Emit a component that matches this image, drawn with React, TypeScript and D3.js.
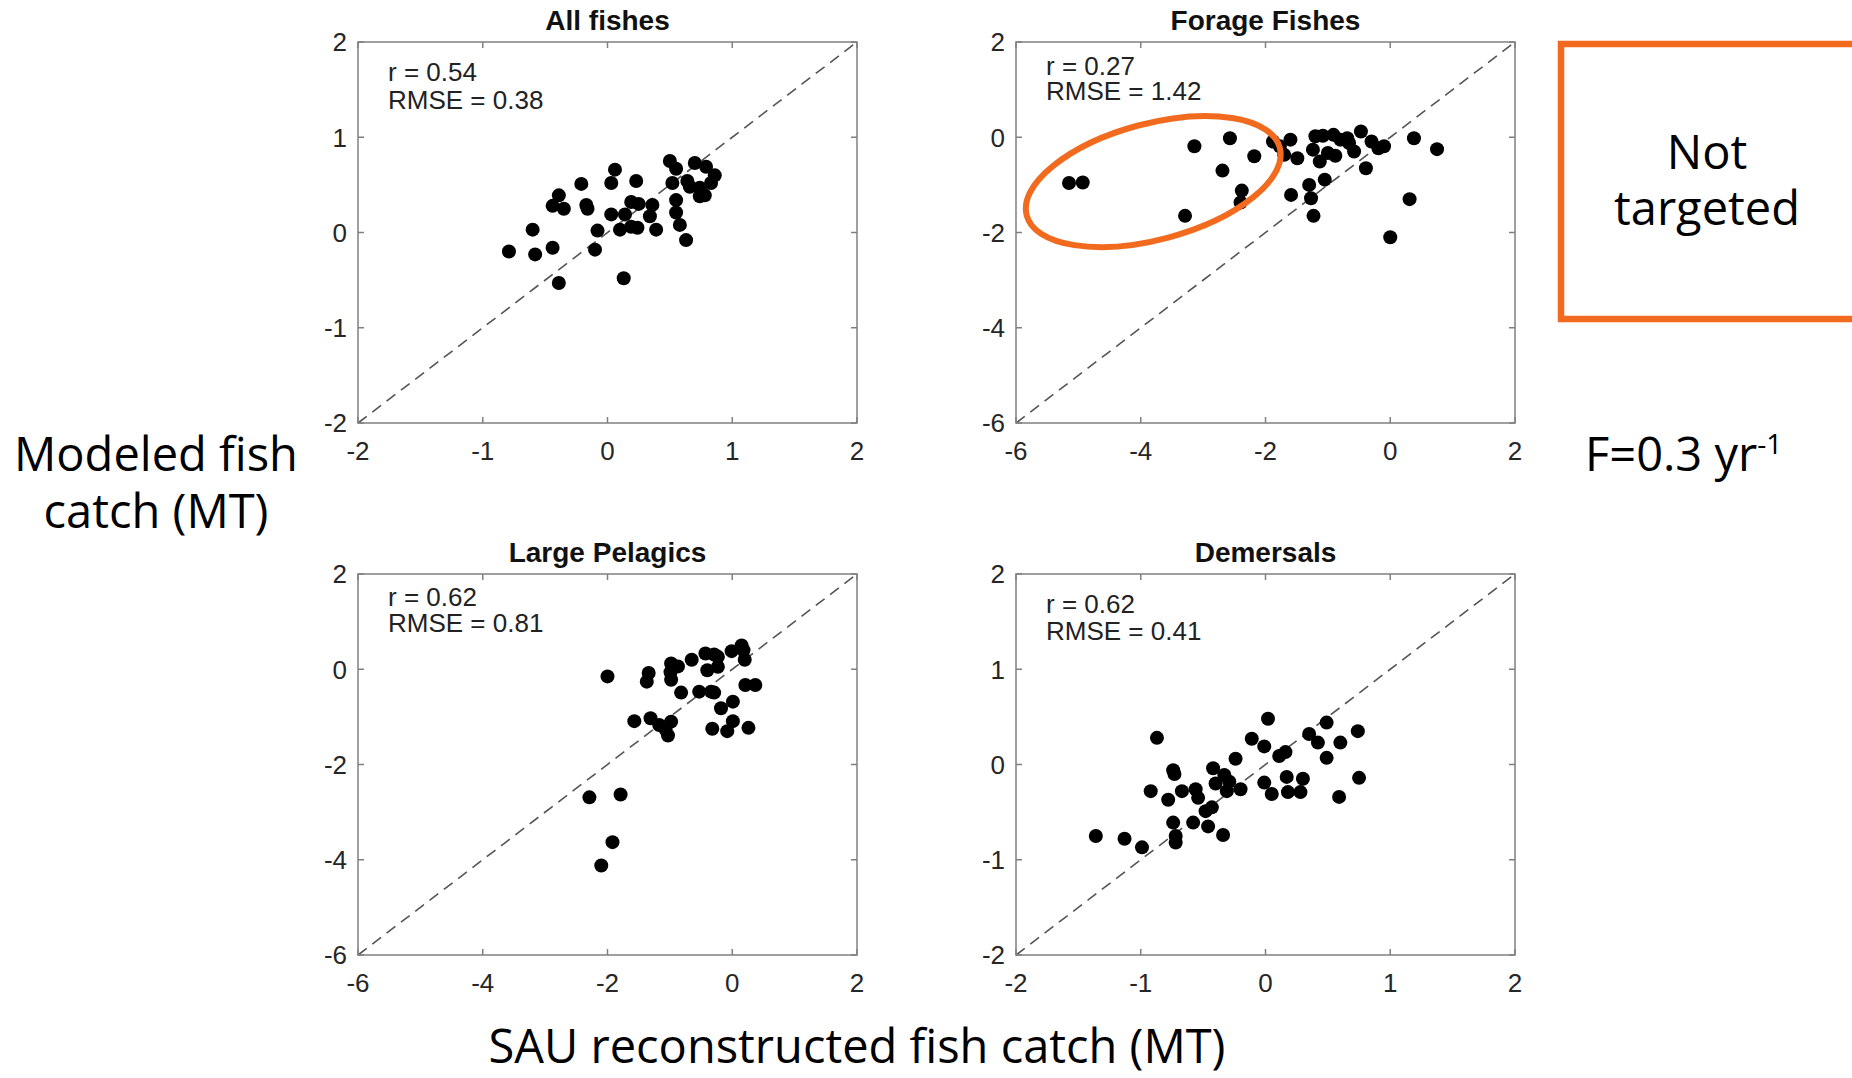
import React from "react";
import * as d3 from "d3";

// values (x = SAU catch, y = modeled catch)
const allFishes: [number, number][] = [
  [-0.79, -0.2], [-0.6, 0.03], [-0.58, -0.23], [-0.44, -0.16], [-0.39, 0.39],
  [-0.44, 0.28], [-0.35, 0.25], [-0.39, -0.53], [-0.21, 0.51], [-0.17, 0.29],
  [-0.16, 0.25], [-0.1, -0.18], [-0.08, 0.02], [0.03, 0.52], [0.06, 0.66],
  [0.03, 0.19], [0.1, 0.03], [0.14, 0.19], [0.13, -0.48], [0.19, 0.32],
  [0.23, 0.54], [0.25, 0.3], [0.19, 0.06], [0.24, 0.05], [0.36, 0.29],
  [0.34, 0.17], [0.39, 0.03], [0.5, 0.75], [0.55, 0.67], [0.52, 0.52],
  [0.55, 0.34], [0.55, 0.21], [0.58, 0.08], [0.63, -0.08], [0.64, 0.54],
  [0.7, 0.73], [0.79, 0.69], [0.86, 0.6], [0.83, 0.52], [0.74, 0.38],
  [0.78, 0.39], [0.74, 0.47], [0.66, 0.48],
];

const forageFishes: [number, number][] = [
  [-5.15, -0.96], [-4.93, -0.95], [-3.14, -0.19], [-3.29, -1.65], [-2.57, -0.02],
  [-2.69, -0.7], [-2.18, -0.4], [-2.38, -1.12], [-2.4, -1.37], [-1.88, -0.09],
  [-1.77, -0.19], [-1.7, -0.37], [-1.6, -0.05], [-1.49, -0.44], [-1.59, -1.21],
  [-1.3, -1.0], [-1.27, -1.28], [-1.23, -1.65], [-1.24, -0.26], [-1.2, 0.02],
  [-1.08, 0.03], [-1.13, -0.51], [-1.05, -0.89], [-1.0, -0.33], [-0.88, -0.39],
  [-0.91, 0.05], [-0.69, -0.02], [-0.58, -0.3], [-0.47, 0.12], [-0.39, -0.65],
  [-0.3, -0.09], [-0.19, -0.23], [-0.1, -0.19], [0.38, -0.02], [0.31, -1.3],
  [0.75, -0.25], [0.0, -2.1], [-0.8, -0.05], [-0.66, -0.12],
];

const largePelagics: [number, number][] = [
  [-2.0, -0.15], [-2.29, -2.69], [-1.79, -2.63], [-1.92, -3.63], [-2.1, -4.12],
  [-1.57, -1.09], [-1.34, -0.08], [-1.37, -0.26], [-1.31, -1.03], [-1.17, -1.17],
  [-1.07, -1.26], [-1.03, -1.39], [-0.98, -1.1], [-0.98, 0.12], [-0.99, -0.06],
  [-0.98, -0.22], [-0.87, 0.06], [-0.82, -0.49], [-0.65, 0.2], [-0.53, -0.47],
  [-0.43, 0.33], [-0.4, -0.02], [-0.34, -0.47], [-0.29, -0.49], [-0.29, 0.31],
  [-0.23, 0.26], [-0.23, 0.05], [-0.32, -1.25], [-0.18, -0.82], [-0.08, -1.3],
  [0.01, -0.68], [0.01, -1.09], [-0.01, 0.38], [0.15, 0.5], [0.18, 0.4],
  [0.2, 0.2], [0.21, -0.33], [0.37, -0.33], [0.26, -1.23],
];

const demersals: [number, number][] = [
  [-1.36, -0.75], [-1.13, -0.78], [-0.99, -0.87], [-0.87, 0.28], [-0.92, -0.28],
  [-0.78, -0.37], [-0.74, -0.06], [-0.73, -0.1], [-0.74, -0.61], [-0.72, -0.75],
  [-0.72, -0.82], [-0.67, -0.28], [-0.58, -0.61], [-0.56, -0.26], [-0.54, -0.35],
  [-0.48, -0.49], [-0.43, -0.45], [-0.46, -0.65], [-0.42, -0.04], [-0.4, -0.2],
  [-0.33, -0.11], [-0.29, -0.18], [-0.31, -0.28], [-0.34, -0.74], [-0.24, 0.06],
  [-0.2, -0.26], [-0.11, 0.27], [-0.01, 0.19], [-0.01, -0.19], [0.02, 0.48],
  [0.05, -0.31], [0.11, 0.09], [0.16, 0.13], [0.17, -0.13], [0.18, -0.29],
  [0.28, -0.29], [0.3, -0.15], [0.35, 0.32], [0.42, 0.23], [0.49, 0.44],
  [0.49, 0.07], [0.59, -0.34], [0.6, 0.23], [0.74, 0.35], [0.75, -0.14],
];

const unitTicks = [-2, -1, 0, 1, 2];
const wideTicks = [-6, -4, -2, 0, 2];

const titles = ["All fishes", "Forage Fishes", "Large Pelagics", "Demersals"];
const rValues = ["r = 0.54", "r = 0.27", "r = 0.62", "r = 0.62"];
const rmseValues = ["RMSE = 0.38", "RMSE = 1.42", "RMSE = 0.81", "RMSE = 0.41"];

// circled group of forage fish outliers (data coords of the ellipse centre)
const forageOutliers = { cx: -3.8, cy: -0.93 };

const W = 1852;
const H = 1078;
const lefts = [358, 1016];
const tops = [42, 574];
const pw = 499;
const ph = 381;
const orange = "#F26A1E";
const bigFont = "'Open Sans', sans-serif";
const axFont = "'Liberation Sans', Arial, sans-serif";

const panels = [
  { data: allFishes, domain: [-2, 2], ticks: unitTicks, col: 0, row: 0, statY: [39, 67] },
  { data: forageFishes, domain: [-6, 2], ticks: wideTicks, col: 1, row: 0, statY: [33, 58] },
  { data: largePelagics, domain: [-6, 2], ticks: wideTicks, col: 0, row: 1, statY: [32, 58] },
  { data: demersals, domain: [-2, 2], ticks: unitTicks, col: 1, row: 1, statY: [39, 66] },
];

function Panel({ p, i }: { p: (typeof panels)[number]; i: number }) {
  const left = lefts[p.col];
  const top = tops[p.row];
  const x = d3.scaleLinear().domain(p.domain).range([0, pw]);
  const y = d3.scaleLinear().domain(p.domain).range([ph, 0]);
  const tl = 6;
  return (
    <g transform={`translate(${left},${top})`}>
      <line
        x1={x(p.domain[0])}
        y1={y(p.domain[0])}
        x2={x(p.domain[1])}
        y2={y(p.domain[1])}
        stroke="#555"
        strokeWidth={1.6}
        strokeDasharray="11 7"
      />
      {p.data.map((d, k) => (
        <circle key={k} cx={x(d[0])} cy={y(d[1])} r={7} fill="#000" />
      ))}
      <rect x={0} y={0} width={pw} height={ph} fill="none" stroke="#808080" strokeWidth={1.5} />
      {p.ticks.map((t) => (
        <g key={t} stroke="#808080" strokeWidth={1.5}>
          <line x1={x(t)} x2={x(t)} y1={ph} y2={ph - tl} />
          <line x1={x(t)} x2={x(t)} y1={0} y2={tl} />
          <line x1={0} x2={tl} y1={y(t)} y2={y(t)} />
          <line x1={pw} x2={pw - tl} y1={y(t)} y2={y(t)} />
        </g>
      ))}
      <g fontFamily={axFont} fontSize={26} fill="#262626">
        {p.ticks.map((t) => (
          <text key={"x" + t} x={x(t)} y={ph + 37} textAnchor="middle">
            {t}
          </text>
        ))}
        {p.ticks.map((t) => (
          <text key={"y" + t} x={-11} y={y(t)} dy="0.36em" textAnchor="end">
            {t}
          </text>
        ))}
      </g>
      <text
        x={pw / 2}
        y={-12}
        textAnchor="middle"
        fontFamily={axFont}
        fontWeight="bold"
        fontSize={28}
        fill="#111"
      >
        {titles[i]}
      </text>
      <g fontFamily={axFont} fontSize={26} fill="#222">
        <text x={30} y={p.statY[0]}>{rValues[i]}</text>
        <text x={30} y={p.statY[1]}>{rmseValues[i]}</text>
      </g>
      {i === 1 && (
        <ellipse
          cx={x(forageOutliers.cx)}
          cy={y(forageOutliers.cy)}
          rx={131}
          ry={58}
          transform={`rotate(-15 ${x(forageOutliers.cx)} ${y(forageOutliers.cy)})`}
          fill="none"
          stroke={orange}
          strokeWidth={6}
        />
      )}
    </g>
  );
}

export default function App() {
  return (
    <svg
      width={W}
      height={H}
      style={{ position: "absolute", left: 0, top: 0, background: "#fff" }}
    >
      <rect width={W} height={H} fill="#fff" />
      {panels.map((p, i) => (
        <Panel key={i} p={p} i={i} />
      ))}

      <g fontFamily={bigFont} fontSize={47} fill="#000">
        <text x={156} y={471} textAnchor="middle">Modeled fish</text>
        <text x={156} y={528} textAnchor="middle">catch (MT)</text>
        <text x={857} y={1063} textAnchor="middle">SAU reconstructed fish catch (MT)</text>
        <text x={1585} y={471}>
          F=0.3 yr<tspan dy={-17} fontSize={28}>-1</tspan>
        </text>
        <text x={1707} y={169} textAnchor="middle">Not</text>
        <text x={1707} y={225} textAnchor="middle">targeted</text>
      </g>

      <rect
        x={1561}
        y={44}
        width={330}
        height={275}
        fill="none"
        stroke={orange}
        strokeWidth={6.5}
      />
    </svg>
  );
}
